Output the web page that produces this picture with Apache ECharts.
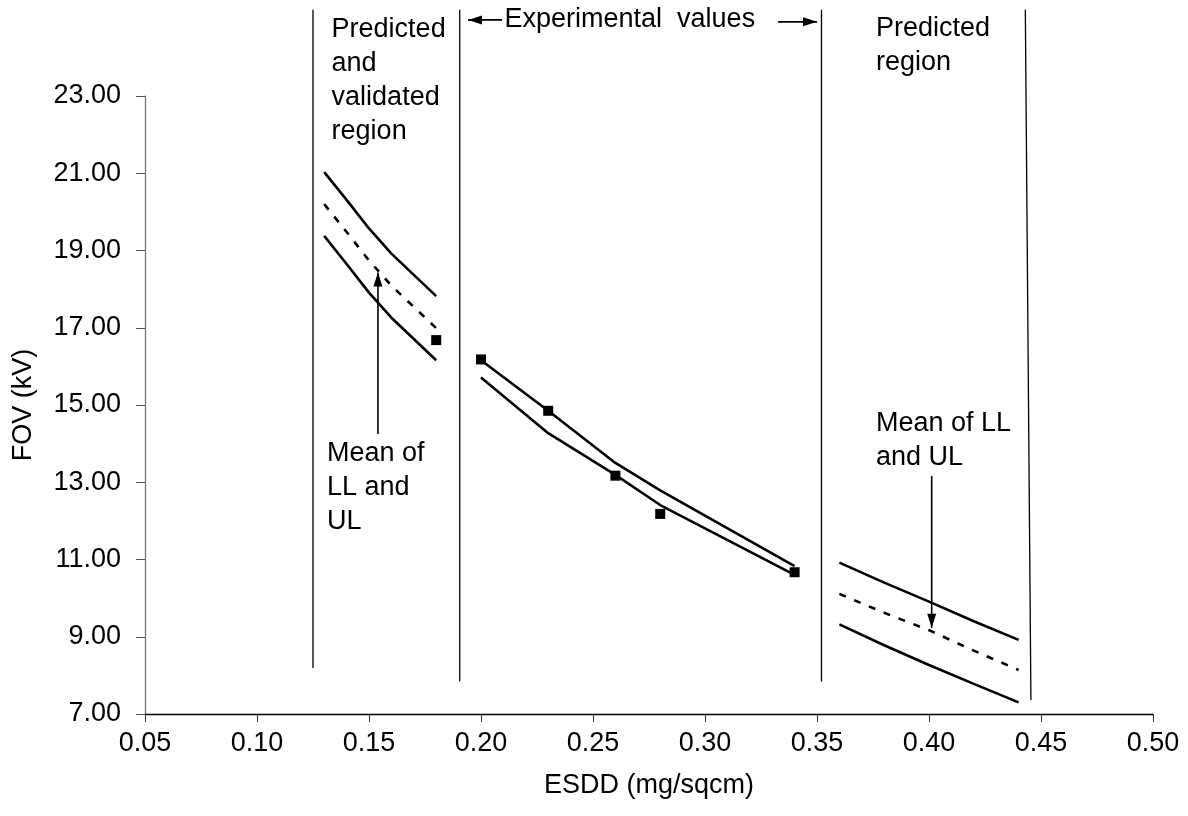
<!DOCTYPE html>
<html>
<head>
<meta charset="utf-8">
<script src="https://cdn.jsdelivr.net/npm/echarts@6/dist/echarts.min.js"></script>
<style>
  html, body { margin: 0; padding: 0; background: #ffffff; }
  #chart { width: 1188px; height: 816px; }
</style>
</head>
<body>
<div id="chart"></div>
<script>
// Flashover voltage (FOV) against equivalent salt deposit density (ESDD)

const xTicks = [0.05, 0.10, 0.15, 0.20, 0.25, 0.30, 0.35, 0.40, 0.45, 0.50];
const yTicks = [7, 9, 11, 13, 15, 17, 19, 21, 23];

// Predicted and validated region: upper limit, mean, lower limit
const predX    = [0.13, 0.14, 0.15, 0.16, 0.17, 0.18];
const predUL   = [21.03, 20.31, 19.57, 18.92, 18.37, 17.82];
const predMean = [20.20, 19.48, 18.74, 18.09, 17.54, 16.99];
const predLL   = [19.38, 18.65, 17.91, 17.26, 16.71, 16.16];

// Experimental range: limit curves
const expX  = [0.20, 0.23, 0.26, 0.28, 0.34];
const expUL = [16.16, 14.85, 13.50, 12.79, 10.83];
const expLL = [15.71, 14.27, 13.19, 12.41, 10.60];

// Measured flashover voltages
const measX   = [0.18, 0.20, 0.23, 0.26, 0.28, 0.34];
const measFOV = [16.68, 16.18, 14.85, 13.17, 12.18, 10.67];

// Predicted region: upper limit, mean, lower limit
const farX    = [0.36, 0.38, 0.40, 0.42, 0.44];
const farUL   = [10.92, 10.40, 9.91, 9.40, 8.92];
const farMean = [10.11, 9.62, 9.17, 8.64, 8.14];
const farLL   = [9.32, 8.78, 8.27, 7.78, 7.30];

// Region boundaries (ESDD at top and bottom end, FOV at top and bottom end)
const boundTopX    = [0.125, 0.1905, 0.352, 0.443];
const boundBottomX = [0.125, 0.1905, 0.352, 0.4455];
const boundTopY    = [25.23, 25.23, 25.23, 25.23];
const boundBottomY = [8.19, 7.85, 7.84, 7.36];

// Annotation texts and anchors (ESDD, FOV)
const noteText = [
  'Predicted\nand\nvalidated\nregion',
  'Experimental  values',
  'Predicted\nregion',
  'Mean of\nLL and\nUL',
  'Mean of LL\nand UL'
];
const noteX = [0.1333, 0.2105, 0.3763, 0.1312, 0.3763];
const noteY = [23.41, 24.97, 24.31, 12.86, 14.09];

// Pointer arrows: start (ESDD, FOV) and tip (ESDD, FOV)
const arrowFromX = [0.1540, 0.4012, 0.2094, 0.3326];
const arrowFromY = [14.25, 13.16, 24.97, 24.92];
const arrowToX   = [0.1540, 0.4012, 0.1942, 0.3500];
const arrowToY   = [18.43, 9.23, 24.97, 24.92];

const FONT = '"Liberation Sans", Arial, Helvetica, sans-serif';
const zip = (xs, ys) => xs.map((x, i) => [x, ys[i]]);

const solid = { color: '#000', width: 2.6, type: 'solid' };
const dashed = { color: '#000', width: 2.6, type: [7, 9] };

function curve(name, xs, ys, style) {
  return {
    name, type: 'line', data: zip(xs, ys),
    showSymbol: false, symbol: 'none', smooth: false, silent: true,
    lineStyle: style, z: 3
  };
}

const series = [
  curve('UL', predX, predUL, solid),
  curve('Mean', predX, predMean, dashed),
  curve('LL', predX, predLL, solid),
  curve('UL exp', expX, expUL, solid),
  curve('LL exp', expX, expLL, solid),
  curve('UL pred', farX, farUL, solid),
  curve('Mean pred', farX, farMean, dashed),
  curve('LL pred', farX, farLL, solid),
  {
    name: 'Measured', type: 'scatter', data: zip(measX, measFOV),
    symbol: 'rect', symbolSize: 10,
    itemStyle: { color: '#000', opacity: 1 }, z: 5, silent: true
  }
];

// region boundary lines
boundTopX.forEach((x, i) => {
  series.push({
    type: 'line', silent: true, clip: false, symbol: 'none', showSymbol: false,
    data: [[x, boundTopY[i]], [boundBottomX[i], boundBottomY[i]]],
    lineStyle: { color: '#000', width: 1.3 }, z: 2
  });
});

// pointer arrows with a triangular head at the tip
arrowFromX.forEach((x, i) => {
  const dx = arrowToX[i] - x, dy = arrowToY[i] - arrowFromY[i];
  let rot = 0, off = [0, 7];
  if (dx === 0 && dy < 0) { rot = 180; off = [0, -7]; }
  else if (dy === 0 && dx < 0) { rot = 90; off = [7, 0]; }
  else if (dy === 0 && dx > 0) { rot = -90; off = [-7, 0]; }
  series.push({
    type: 'line', silent: true, clip: false, showSymbol: true,
    data: [
      { value: [x, arrowFromY[i]], symbol: 'none' },
      { value: [arrowToX[i], arrowToY[i]], symbol: 'triangle', symbolSize: [9, 14],
        symbolRotate: rot, symbolOffset: off }
    ],
    itemStyle: { color: '#000', opacity: 1 },
    lineStyle: { color: '#000', width: 1.6 }, z: 4
  });
});

// annotation texts
series.push({
  type: 'scatter', silent: true, clip: false, symbolSize: 0,
  itemStyle: { opacity: 1 },
  data: noteText.map((t, i) => ({ value: [noteX[i], noteY[i]], name: t })),
  label: {
    show: true, position: 'right', distance: 0,
    formatter: p => p.name,
    color: '#000', opacity: 1, fontFamily: FONT, fontSize: 27, lineHeight: 34,
    align: 'left', verticalAlign: 'middle'
  },
  z: 6
});

const chart = echarts.init(document.getElementById('chart'), null, { renderer: 'canvas' });
chart.setOption({
  backgroundColor: '#ffffff',
  animation: false,
  textStyle: { fontFamily: FONT },
  grid: { left: 145, right: 35, top: 96, bottom: 102, containLabel: false },
  xAxis: {
    type: 'value', min: 0.05, max: 0.50, interval: 0.05,
    name: 'ESDD (mg/sqcm)', nameLocation: 'middle', nameGap: 58,
    nameTextStyle: { color: '#000', fontSize: 27, fontFamily: FONT },
    axisLine: { show: true, onZero: false, lineStyle: { color: '#000', width: 1.3 } },
    axisTick: { show: true, inside: false, length: 8, customValues: xTicks,
      lineStyle: { color: '#333', width: 1 } },
    axisLabel: { color: '#000', fontSize: 27, fontFamily: FONT, margin: 16,
      customValues: xTicks, formatter: v => v.toFixed(2) },
    splitLine: { show: false }
  },
  yAxis: {
    type: 'value', min: 7, max: 23,
    name: 'FOV (kV)', nameLocation: 'middle', nameGap: 108, nameRotate: 90,
    nameTextStyle: { color: '#000', fontSize: 27, fontFamily: FONT },
    axisLine: { show: true, onZero: false, lineStyle: { color: '#777', width: 1.3 } },
    axisTick: { show: true, inside: false, length: 9, customValues: yTicks,
      lineStyle: { color: '#555', width: 1 } },
    axisLabel: { color: '#000', fontSize: 27, fontFamily: FONT, margin: 24,
      customValues: yTicks, formatter: v => v.toFixed(2) },
    splitLine: { show: false }
  },
  series
});
</script>
</body>
</html>
